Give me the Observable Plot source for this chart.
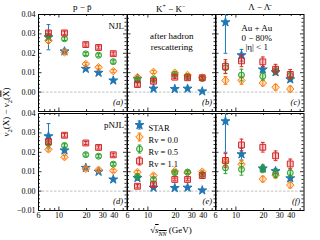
<!DOCTYPE html>
<html><head><meta charset="utf-8">
<script src="https://cdn.jsdelivr.net/npm/d3@7"></script>
<script src="https://cdn.jsdelivr.net/npm/@observablehq/plot@0.6"></script>
<style>
body{margin:0;background:#fff;}
#fig{position:relative;width:320px;height:240px;font-family:"Liberation Serif",serif;color:#000;overflow:hidden;background:#fff;}
.t{position:absolute;white-space:nowrap;line-height:1;}
</style></head><body><div id="fig"></div>
<script>
// ---------- data ----------
const energies = [7.7, 11.5, 19.6, 27, 39];
const seriesNames = ["STAR", "Rv = 0.0", "Rv = 0.5", "Rv = 1.1"];
const xTickLabels = [6, 10, 20, 30, 40];
const xMinorTicks = [6, 7, 8, 9, 20, 30, 40, 50];
const xMajorTicks = [10];
const yLabelsTop = [0, 0.01, 0.02, 0.03, 0.04];
const yLabelsBottom = [-0.01, 0, 0.01, 0.02, 0.03, 0.04];
const yMajorTicks = [-0.01, 0, 0.01, 0.02, 0.03, 0.04];

// STAR measurements
const starP = [0.0283, 0.021, 0.012, 0.010, 0.006];
const starPErr = [0.0065, 0.0012, 0.0008, 0.0008, 0.0007];
const starK = [0.0068, 0.0018, 0.0016, 0.0018, 0.0004];
const starKErr = [0.0012, 0.0006, 0.0005, 0.0005, 0.0004];
const starL = [0.036, 0.019, 0.0117, 0.0103, 0.0066];
const starLErr = [0.016, 0.003, 0.0015, 0.0013, 0.0012];

// NJL
const njlP00 = [0.0265, 0.0205, 0.0145, 0.0128, 0.0108];
const njlP05 = [0.029, 0.0275, 0.0197, 0.019, 0.0157];
const njlP11 = [0.0305, 0.0305, 0.0245, 0.023, 0.0198];
const njlK00 = [0.0077, 0.0104, 0.0100, 0.0088, 0.0075];
const njlK05 = [0.0063, 0.0068, 0.0091, 0.0080, 0.0070];
const njlK11 = [0.0039, 0.0056, 0.0077, 0.0074, 0.0074];
const njlL00 = [0.006, 0.006, 0.0047, 0.0025, 0.0016];
const njlL05 = [0.0125, 0.0088, 0.0082, 0.011, 0.0085];
const njlL11 = [0.0132, 0.0161, 0.0156, 0.0118, 0.0091];
// pNJL
const pnjlP00 = [0.0215, 0.0175, 0.0115, 0.011, 0.0105];
const pnjlP05 = [0.0245, 0.0235, 0.0188, 0.018, 0.0139];
const pnjlP11 = [0.0255, 0.0288, 0.0248, 0.0225, 0.0187];
const pnjlK00 = [0.0098, 0.008, 0.0103, 0.0095, 0.010];
const pnjlK05 = [0.0075, 0.006, 0.0095, 0.0098, 0.0086];
const pnjlK11 = [0.0025, 0.0033, 0.006, 0.006, 0.008];
const pnjlL00 = [0.015, 0.0139, 0.0062, 0.0082, 0.0031];
const pnjlL05 = [0.012, 0.0112, 0.0115, 0.009, 0.0094];
const pnjlL11 = [0.0158, 0.0238, 0.0226, 0.0182, 0.014];

// model uncertainties
const errP = [0.0009, 0.0009, 0.0008, 0.0008, 0.0008];
const errK = [0.0008, 0.0008, 0.0007, 0.0007, 0.0007];
const errL00 = [0.002, 0.002, 0.0015, 0.0015, 0.0015];
const errL05 = [0.003, 0.003, 0.002, 0.002, 0.002];
const errL11 = [0.0035, 0.003, 0.0025, 0.0025, 0.0025];

// ---------- styling ----------
const FONT = "'Liberation Serif', serif";
const W = 88.5, H = 97;
const colLeft = [38, 126.5, 215];
const rowTop = [14, 113];
const ML = 38, MB = 14;
const sty = {
  star: {color: "#1f77b4", symbol: "star", r: 2.8, fill: "#1f77b4", fo: 1},
  rv00: {color: "#ff7f0e", symbol: "diamond2", r: 3.4, fill: "#ff7f0e", fo: 0.25},
  rv05: {color: "#2ca02c", symbol: "circle", r: 3, fill: "#2ca02c", fo: 0.25},
  rv11: {color: "#d62728", symbol: "square", r: 3.3, fill: "#d62728", fo: 0.25}
};
const capSym = {draw(ctx, size) {const r = Math.sqrt(size / Math.PI); ctx.moveTo(-r, 0); ctx.lineTo(r, 0);}};
const barSym = {draw(ctx, size) {const r = Math.sqrt(size / Math.PI); ctx.moveTo(0, -r); ctx.lineTo(0, r); ctx.moveTo(-r * 0.45, -r); ctx.lineTo(r * 0.45, -r); ctx.moveTo(-r * 0.45, r); ctx.lineTo(r * 0.45, r);}};

function seriesMarks(vals, errs, s) {
  const rows = energies.map((x, i) => ({x, y: vals[i], e: errs[i]}));
  return [
    Plot.ruleX(rows, {x: "x", y1: d => d.y - d.e, y2: d => d.y + d.e, stroke: s.color, strokeWidth: 1, clip: true}),
    Plot.dot(rows, {x: "x", y: d => d.y + d.e, symbol: capSym, r: 1.9, stroke: s.color, fill: "none", strokeWidth: 1, clip: true}),
    Plot.dot(rows, {x: "x", y: d => d.y - d.e, symbol: capSym, r: 1.9, stroke: s.color, fill: "none", strokeWidth: 1, clip: true}),
    Plot.dot(rows, {x: "x", y: "y", symbol: s.symbol, r: s.r, stroke: s.color, fill: s.fill, fillOpacity: s.fo, strokeWidth: 1, clip: true})
  ];
}

function tickMarks() {
  const yMinor = d3.range(-0.01, 0.0401, 0.002).filter(v => !yMajorTicks.some(m => Math.abs(m - v) < 1e-6));
  const M = 3.5, m = 2;
  return [
    Plot.ruleX(xMinorTicks, {x: d => d, insetTop: H - m, strokeWidth: 0.8}),
    Plot.ruleX(xMinorTicks, {x: d => d, insetBottom: H - m, strokeWidth: 0.8}),
    Plot.ruleX(xMajorTicks, {x: d => d, insetTop: H - M, strokeWidth: 0.8}),
    Plot.ruleX(xMajorTicks, {x: d => d, insetBottom: H - M, strokeWidth: 0.8}),
    Plot.ruleY(yMinor, {y: d => d, insetRight: W - m, strokeWidth: 0.8}),
    Plot.ruleY(yMinor, {y: d => d, insetLeft: W - m, strokeWidth: 0.8}),
    Plot.ruleY(yMajorTicks, {y: d => d, insetRight: W - M, strokeWidth: 0.8}),
    Plot.ruleY(yMajorTicks, {y: d => d, insetLeft: W - M, strokeWidth: 0.8})
  ];
}

function panel({col, row, star, starErr, m00, m05, m11, e00, e05, e11, tag, yLabels, xLabels, extra = []}) {
  const ml = yLabels ? ML : 0, mb = xLabels ? MB : 0;
  const marks = [
    Plot.ruleY([0], {stroke: "#b0b0b0", strokeDasharray: "2.5,1.5", strokeWidth: 0.8}),
    ...tickMarks(),
    Plot.frame({stroke: "#000", strokeWidth: 1}),
    ...seriesMarks(star, starErr, sty.star),
    ...seriesMarks(m00, e00, sty.rv00),
    ...seriesMarks(m05, e05, sty.rv05),
    ...seriesMarks(m11, e11, sty.rv11),
    Plot.text([tag], {frameAnchor: "bottom-right", dx: -4, dy: -7, text: d => d, fontStyle: "italic", fontSize: 8.5}),
    ...extra
  ];
  if (yLabels) marks.push(Plot.text(yLabels, {y: d => d, frameAnchor: "left", dx: -3, textAnchor: "end", text: d => d3.format(".2f")(d), fontSize: 8}));
  if (xLabels) marks.push(Plot.text(xLabels, {x: d => d, frameAnchor: "bottom", dy: 7, text: d => String(d), fontSize: 8}));
  const svg = Plot.plot({
    width: W + ml, height: H + mb,
    marginLeft: ml, marginRight: 0, marginTop: 0, marginBottom: mb,
    style: {background: "transparent", overflow: "visible", fontFamily: FONT, fontSize: "8px"},
    x: {type: "log", domain: [6, 55], axis: null, label: null},
    y: {domain: [-0.01, 0.04], axis: null, label: null},
    marks
  });
  svg.style.position = "absolute";
  svg.style.left = (colLeft[col] - ml) + "px";
  svg.style.top = rowTop[row] + "px";
  svg.style.maxWidth = "none";
  svg.style.overflow = "visible";
  document.getElementById("fig").appendChild(svg);
}

function legendMarks() {
  const styles = [sty.star, sty.rv00, sty.rv05, sty.rv11];
  const out = [];
  seriesNames.forEach((name, i) => {
    const s = styles[i];
    const dy = 11.5 + i * 12;
    out.push(Plot.dot([name], {frameAnchor: "top-left", dx: 12, dy, symbol: barSym, r: 4, stroke: s.color, fill: "none", strokeWidth: 1}));
    out.push(Plot.dot([name], {frameAnchor: "top-left", dx: 12, dy, symbol: s.symbol, r: s.r, stroke: s.color, fill: s.fill, fillOpacity: s.fo, strokeWidth: 1}));
    out.push(Plot.text([name], {frameAnchor: "top-left", dx: 21, dy, text: d => d, textAnchor: "start", fontSize: 8.5}));
  });
  return out;
}

// top row: NJL
panel({col: 0, row: 0, star: starP, starErr: starPErr, m00: njlP00, m05: njlP05, m11: njlP11, e00: errP, e05: errP, e11: errP, tag: "(a)", yLabels: yLabelsTop,
  extra: [Plot.text(["NJL"], {frameAnchor: "top-right", dx: -3, dy: 8, text: d => d, textAnchor: "end", fontSize: 9})]});
panel({col: 1, row: 0, star: starK, starErr: starKErr, m00: njlK00, m05: njlK05, m11: njlK11, e00: errK, e05: errK, e11: errK, tag: "(b)",
  extra: [Plot.text(["after hadron"], {frameAnchor: "top", dy: 18, text: d => d, fontSize: 9}),
          Plot.text(["rescattering"], {frameAnchor: "top", dy: 29, text: d => d, fontSize: 9})]});
panel({col: 2, row: 0, star: starL, starErr: starLErr, m00: njlL00, m05: njlL05, m11: njlL11, e00: errL00, e05: errL05, e11: errL11, tag: "(c)",
  extra: [Plot.text(["Au + Au"], {frameAnchor: "top", dx: -3, dy: 10.5, text: d => d, fontSize: 9}),
          Plot.text(["0 − 80%"], {frameAnchor: "top", dx: -3, dy: 20, text: d => d, fontSize: 9}),
          Plot.text(["|η| < 1"], {frameAnchor: "top", dx: -3, dy: 29.5, text: d => d, fontSize: 9})]});
// bottom row: pNJL
panel({col: 0, row: 1, star: starP, starErr: starPErr, m00: pnjlP00, m05: pnjlP05, m11: pnjlP11, e00: errP, e05: errP, e11: errP, tag: "(d)", yLabels: yLabelsBottom, xLabels: xTickLabels,
  extra: [Plot.text(["pNJL"], {frameAnchor: "top-right", dx: -3, dy: 8, text: d => d, textAnchor: "end", fontSize: 9})]});
panel({col: 1, row: 1, star: starK, starErr: starKErr, m00: pnjlK00, m05: pnjlK05, m11: pnjlK11, e00: errK, e05: errK, e11: errK, tag: "(e)", xLabels: xTickLabels,
  extra: legendMarks()});
panel({col: 2, row: 1, star: starL, starErr: starLErr, m00: pnjlL00, m05: pnjlL05, m11: pnjlL11, e00: errL00, e05: errL05, e11: errL11, tag: "(f)", xLabels: xTickLabels});

// titles and axis labels
const fig = document.getElementById("fig");
function addText(html, css) {const d = document.createElement("div"); d.className = "t"; d.innerHTML = html; Object.assign(d.style, css); fig.appendChild(d);}
const titles = ["p − p&#772;", "K<sup style='font-size:6px'>+</sup> − K<sup style='font-size:6px'>−</sup>", "Λ − Λ&#772;"];
titles.forEach((t, i) => addText(t, {left: (colLeft[i] + W / 2) + "px", top: "3px", transform: "translateX(-50%)", fontSize: "9px"}));
addText("<i>v</i><sub style='font-size:6.5px'>2</sub>(X) − <i>v</i><sub style='font-size:6.5px'>2</sub>(<span style='text-decoration:overline'>X</span>)",
  {left: "8px", top: "112px", transform: "translate(-50%,-50%) rotate(-90deg)", fontSize: "9px"});
addText("√<span style='text-decoration:overline'><i>s</i><sub style='font-size:6px'><i>NN</i></sub></span> (GeV)",
  {left: "171px", top: "226px", transform: "translateX(-50%)", fontSize: "9px"});
</script></body></html>
